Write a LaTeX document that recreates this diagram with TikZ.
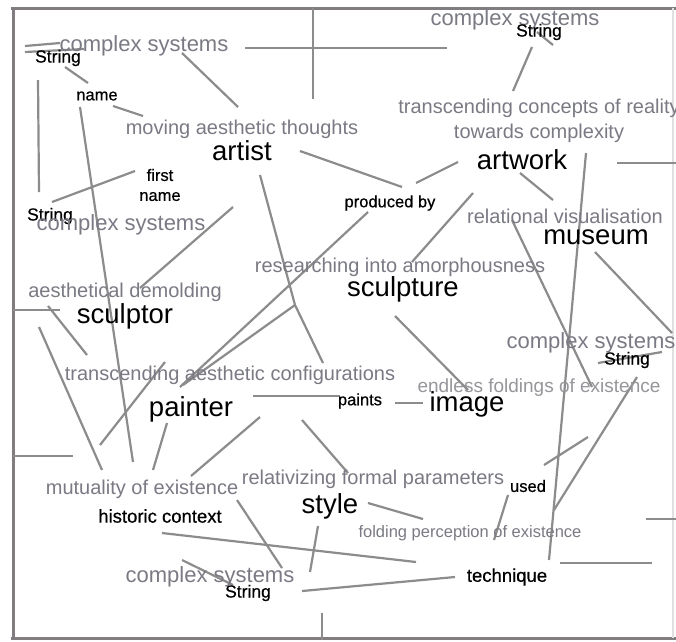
\documentclass[tikz,border=0pt]{standalone}
\usepackage{fontspec}
\setmainfont{Liberation Sans}
\newfontfamily\labfont[FakeBold=0.6]{Liberation Sans}
\definecolor{linegray}{RGB}{140,140,140}
\definecolor{txtgray}{RGB}{122,122,132}
\definecolor{lightgray2}{RGB}{150,150,155}
\definecolor{framegray}{RGB}{128,124,128}
\tikzset{
  concept/.style={inner sep=0pt, text=black, font=\fontsize{27.5}{30}\selectfont},
  phrase/.style={inner sep=0pt, text=txtgray, font=\fontsize{20}{25}\selectfont, align=center},
  cplx/.style={inner sep=0pt, text=txtgray, font=\fontsize{22}{24}\selectfont},
  lab/.style={inner sep=0pt, text=black, font=\labfont\fontsize{16.5}{20}\selectfont, align=center},
  strlab/.style={inner sep=0pt, text=black, font=\labfont\fontsize{17.5}{20}\selectfont},
  labbig/.style={inner sep=0pt, text=black, font=\labfont\fontsize{18.5}{22}\selectfont},
  conn/.style={draw=linegray, line width=2.2pt},
  frame/.style={draw=framegray, line width=3pt}
}
\begin{document}
\begin{tikzpicture}[x=1pt,y=-1pt]
\useasboundingbox (0,0) rectangle (676,641);
\fill[white] (0,0) rectangle (676,641);
% frame
\coordinate (f1) at (11,8);
\coordinate (f2) at (676,8);
\coordinate (f3) at (13,8);
\coordinate (f4) at (13,639);
\coordinate (f5) at (11,638);
\coordinate (f6) at (676,638);
\coordinate (f7) at (673,8);
\coordinate (f8) at (673,638);
\draw[frame] (f1) -- (f2);
\draw[frame] (f3) -- (f4);
\draw[frame] (f5) -- (f6);
\draw[draw=black!12, line width=1.5pt] (f7) -- (f8);

% connectors (drawn first, text on top)
\foreach \i/\xa/\ya/\xb/\yb in {
  1/245/48/447/48, 2/313/8/313/99, 3/182/53/238/107, 4/65/67/88/83,
  5/113/106/143/116, 6/80/107/133/462, 7/38/80/39/192, 8/135/171/52/202,
  9/300/151/402/187, 10/458/162/416/183, 11/520/173/553/200, 12/586/153/549/560,
  13/617/163/676/163, 14/532/47/513/91, 15/537/32/553/45,
  16/260/175/295/305, 17/295/305/323/363, 18/295/305/183/385,
  19/368/212/180/387, 20/233/207/140/288, 21/473/193/412/262,
  22/395/316/468/390, 23/512/220/592/387, 24/595/252/672/333,
  25/598/363/662/352, 26/637/377/554/510, 27/253/396/340/396,
  28/395/403/423/403, 29/13/310/60/310, 30/48/306/87/355,
  31/39/327/102/470, 32/165/362/100/445, 33/167/423/153/470,
  34/260/417/191/476, 35/302/420/348/473, 36/368/503/423/519,
  37/508/495/494/540, 38/544/465/588/437, 39/646/519/676/519,
  40/560/563/652/563, 41/302/591/455/577, 42/162/533/416/562,
  43/237/500/282/568, 44/318/526/310/572, 45/182/560/233/585,
  46/322/613/322/640, 47/13/456/73/456, 48/25/46/60/43, 49/25/52/84/49}
{
  \coordinate (a\i) at (\xa,\ya);
  \coordinate (b\i) at (\xb,\yb);
  \draw[conn] (a\i) -- (b\i);
}

% texts
\node[cplx] (cs1) at (144,46) {complex systems};
\node[strlab] (str1) at (58,58) {String};
\node[lab] (name1) at (97,96) {name};
\node[phrase] (mat) at (242,129) {moving aesthetic thoughts};
\node[concept] (artist) at (242,151) {artist};
\node[lab] (fname) at (160,185) {first\\name};
\node[strlab] (str2) at (50,216) {String};
\node[cplx] (cs2) at (121,225) {complex systems};
\node[phrase] (ad) at (125,292) {aesthetical demolding};
\node[concept] (sculptor) at (125,316) {sculptor};
\node[phrase] (tac) at (230,375) {transcending aesthetic configurations};
\node[concept] (painter) at (191,409) {painter};
\node[phrase] (moe) at (142,489) {mutuality of existence};
\node[labbig] (hc) at (160,516) {historic context};
\node[phrase] (rfp) at (373,479) {relativizing formal parameters};
\node[concept] (style) at (330,506) {style};
\node[phrase, font=\fontsize{16.5}{20}\selectfont] (fpe) at (470,533) {folding perception of existence};
\node[cplx] (cs5) at (210,577) {complex systems};
\node[strlab] (str5) at (248,593) {String};
\node[labbig] (tech) at (507,577) {technique};
\node[lab] (used) at (528,486) {used};
\node[cplx] (cs3) at (515,20) {complex systems};
\node[strlab] (str3) at (539,32) {String};
\node[phrase] (tcr) at (539,121) {transcending concepts of reality\\towards complexity};
\node[concept] (artwork) at (522,160) {artwork};
\node[lab] (prod) at (390,203) {produced by};
\node[phrase] (relvis) at (565,216) {relational visualisation};
\node[concept] (museum) at (596,237) {museum};
\node[phrase] (ria) at (400,267) {researching into amorphousness};
\node[concept] (sculpture) at (403,289) {sculpture};
\node[cplx] (cs4) at (591,343) {complex systems};
\node[strlab] (str4) at (627,360) {String};
\node[phrase, text=lightgray2, font=\fontsize{19}{22}\selectfont] (efe) at (539,388) {endless foldings of existence};
\node[lab] (paints) at (360,401) {paints};
\node[concept] (image) at (467,404) {image};
\end{tikzpicture}
\end{document}
